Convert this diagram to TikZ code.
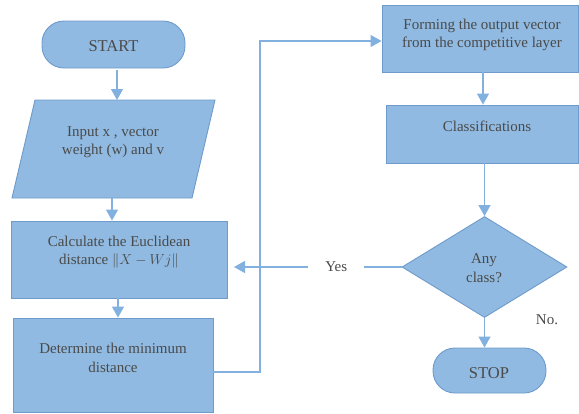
\documentclass[tikz,border=0pt]{standalone}
\usepackage{fontspec}
\setmainfont{Liberation Serif}
\usetikzlibrary{arrows.meta,shapes.geometric,calc}
\definecolor{boxfill}{HTML}{90BAE1}
\definecolor{boxline}{HTML}{6E9BCB}
\definecolor{arrcol}{HTML}{82B1E0}
\definecolor{txtcol}{HTML}{4A4A4A}
\tikzset{
  box/.style={draw=boxline, fill=boxfill, line width=0.9pt, inner sep=0pt},
  term/.style={box, rounded corners=22pt},
  txt/.style={text=txtcol, font=\fontsize{15}{18.5}\selectfont, align=center, inner sep=0pt},
  bigtxt/.style={text=txtcol, font=\fontsize{16.5}{19}\selectfont, inner sep=0pt},
  conn/.style={draw=arrcol, line width=1.3pt},
  arr/.style={conn, -{Triangle[length=11pt,width=12pt]}},
}
\begin{document}
\begin{tikzpicture}[x=1pt,y=-1pt]
\useasboundingbox (0,0) rectangle (579,413);
% shapes
\node[term, minimum width=143pt, minimum height=47pt] (start) at (113.5,44.5) {};
\node[bigtxt] (startT) at (113.5,46) {START};
\draw[box] (35,100) -- (215,100) -- (192,198) -- (12,198) -- cycle;
\coordinate (inTop) at (117,100);
\coordinate (inBot) at (112,198);
\node[txt] (inT) at (113,142) {Input x , vector\\weight (w) and v};
\node[box, minimum width=216pt, minimum height=77pt] (calc) at (119,259.5) {};
\node[txt] (calcT) at (119,252) {Calculate the Euclidean\\distance $\|X-Wj\|$};
\node[box, minimum width=200pt, minimum height=94pt] (det) at (113,365) {};
\node[txt] (detT) at (113,358) {Determine the minimum\\distance};
\node[box, minimum width=196pt, minimum height=67pt] (form) at (480,38.5) {};
\node[txt] (formT) at (482,35) {Forming the output vector\\from the competitive layer};
\node[box, minimum width=192pt, minimum height=58pt] (class) at (482,134) {};
\node[txt] (classT) at (487,126.5) {Classifications};
\node[diamond, box, minimum width=165pt, minimum height=101pt] (dia) at (484.5,267) {};
\node[txt] (diaT) at (484,268) {Any\\class?};
\node[term, minimum width=113pt, minimum height=45pt] (stop) at (489.5,370.5) {};
\node[bigtxt] (stopT) at (489,373) {STOP};
% connectors
\draw[arr] (start.south -| inTop) ++(0,2) -- (inTop);
\draw[arr] (inBot) -- (calc.north -| inBot);
\draw[arr] (calc.south -| 118,0) -- (det.north -| 118,0);
\coordinate (loopA) at (260,372);
\coordinate (loopB) at (260,41);
\draw[arr] (det.east |- loopA) -- (loopA) -- (loopB) -- (form.west |- loopB);
\draw[arr] (form.south -| 483,0) -- (class.north -| 483,0);
\draw[arr] (class.south -| dia.north) -- (dia.north);
\coordinate (yesEnd) at (234,267);
\draw[arr] (dia.west) -- node[pos=0.39, fill=white, text=txtcol, font=\fontsize{15}{18}\selectfont, inner xsep=17pt, inner ysep=2pt] (yes) {Yes} (yesEnd);
\draw[arr] (dia.south) -- (stop.north -| dia.south);
\node[txt] (no) at (547,320) {No.};
\end{tikzpicture}
\end{document}
